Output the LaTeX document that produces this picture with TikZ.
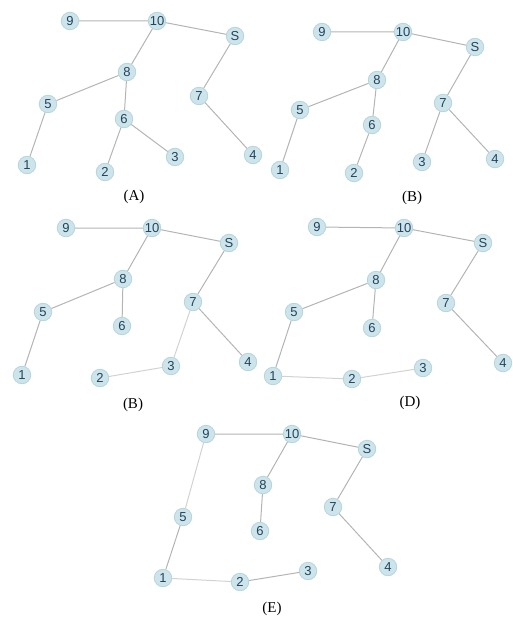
\documentclass[tikz,border=0pt]{standalone}
\usepackage{fontspec}
\setmainfont{Liberation Serif}
\newfontfamily\nodefont{Liberation Sans}
\definecolor{nodefill}{HTML}{CDE4EA}
\definecolor{nodeline}{HTML}{B5D5DD}
\definecolor{nodetext}{HTML}{22445F}
\definecolor{edgecol}{HTML}{B4B4B4}
\definecolor{edgelight}{HTML}{D2D2D2}
\tikzset{
  vtx/.style={circle, fill=nodefill, draw=nodeline, line width=0.8pt, minimum size=17.5pt, inner sep=0pt, font=\nodefont\fontsize{13}{13}\selectfont, text=nodetext},
  edge/.style={draw=edgecol, line width=1pt},
  ledge/.style={draw=edgelight, line width=1pt},
  captxt/.style={font=\fontsize{15}{15}\selectfont, text=black}
}
\begin{document}
\begin{tikzpicture}[x=1pt,y=-1pt]
\useasboundingbox (0,0) rectangle (513,620);
% Panel A
\node[vtx] (a9) at (70,21) {9};
\node[vtx] (a10) at (157,21) {10};
\node[vtx] (aS) at (235,36) {S};
\node[vtx] (a8) at (127,72) {8};
\node[vtx] (a7) at (199,96) {7};
\node[vtx] (a5) at (48,104) {5};
\node[vtx] (a6) at (124,119) {6};
\node[vtx] (a1) at (27,165) {1};
\node[vtx] (a2) at (105,172) {2};
\node[vtx] (a3) at (175,157) {3};
\node[vtx] (a4) at (253,155) {4};
\node[captxt] (al) at (134,197) {(A)};
\draw[edge] (a9)--(a10) (a10)--(aS) (a10)--(a8) (a8)--(a5) (a8)--(a6) (a5)--(a1) (a6)--(a2) (a6)--(a3) (aS)--(a7) (a7)--(a4);
% Panel B (top right)
\node[vtx] (b9) at (322,32) {9};
\node[vtx] (b10) at (403,32) {10};
\node[vtx] (bS) at (475,47) {S};
\node[vtx] (b8) at (377,80) {8};
\node[vtx] (b5) at (300,110) {5};
\node[vtx] (b6) at (372,125) {6};
\node[vtx] (b7) at (443,103) {7};
\node[vtx] (b1) at (280,170) {1};
\node[vtx] (b2) at (354,173) {2};
\node[vtx] (b3) at (422,162) {3};
\node[vtx] (b4) at (495,159) {4};
\node[captxt] (bl) at (412,198) {(B)};
\draw[edge] (b9)--(b10) (b10)--(bS) (b10)--(b8) (b8)--(b5) (b8)--(b6) (b5)--(b1) (b6)--(b2) (bS)--(b7) (b7)--(b3) (b7)--(b4);
% Panel C (middle left, labelled B)
\node[vtx] (c9) at (66,228) {9};
\node[vtx] (c10) at (152,228) {10};
\node[vtx] (cS) at (229,243) {S};
\node[vtx] (c8) at (123,279) {8};
\node[vtx] (c5) at (43,312) {5};
\node[vtx] (c6) at (122,326) {6};
\node[vtx] (c7) at (193,302) {7};
\node[vtx] (c1) at (22,375) {1};
\node[vtx] (c2) at (100,378) {2};
\node[vtx] (c3) at (171,366) {3};
\node[vtx] (c4) at (248,362) {4};
\node[captxt] (cl) at (133,405) {(B)};
\draw[edge] (c9)--(c10) (c10)--(cS) (c10)--(c8) (c8)--(c5) (c8)--(c6) (c5)--(c1) (cS)--(c7) (c7)--(c4);
\draw[ledge] (c7)--(c3) (c3)--(c2);
% Panel D
\node[vtx] (d9) at (317,227) {9};
\node[vtx] (d10) at (404,228) {10};
\node[vtx] (dS) at (483,243) {S};
\node[vtx] (d8) at (376,280) {8};
\node[vtx] (d5) at (294,312) {5};
\node[vtx] (d6) at (372,328) {6};
\node[vtx] (d7) at (446,303) {7};
\node[vtx] (d1) at (273,376) {1};
\node[vtx] (d2) at (352,379) {2};
\node[vtx] (d3) at (423,368) {3};
\node[vtx] (d4) at (503,363) {4};
\node[captxt] (dl) at (410,403) {(D)};
\draw[edge] (d9)--(d10) (d10)--(dS) (d10)--(d8) (d8)--(d5) (d8)--(d6) (d5)--(d1) (dS)--(d7) (d7)--(d4);
\draw[ledge] (d1)--(d2) (d2)--(d3);
% Panel E
\node[vtx] (e9) at (206,434) {9};
\node[vtx] (e10) at (292,434) {10};
\node[vtx] (eS) at (367,449) {S};
\node[vtx] (e8) at (263,485) {8};
\node[vtx] (e5) at (183,517) {5};
\node[vtx] (e6) at (260,531) {6};
\node[vtx] (e7) at (333,507) {7};
\node[vtx] (e1) at (163,578) {1};
\node[vtx] (e2) at (240,582) {2};
\node[vtx] (e3) at (308,571) {3};
\node[vtx] (e4) at (388,567) {4};
\node[captxt] (el) at (272,609) {(E)};
\draw[edge] (e9)--(e10) (e10)--(eS) (e10)--(e8) (e8)--(e6) (e5)--(e1) (eS)--(e7) (e7)--(e4) (e2)--(e3);
\draw[ledge] (e9)--(e5) (e1)--(e2);
\end{tikzpicture}
\end{document}
